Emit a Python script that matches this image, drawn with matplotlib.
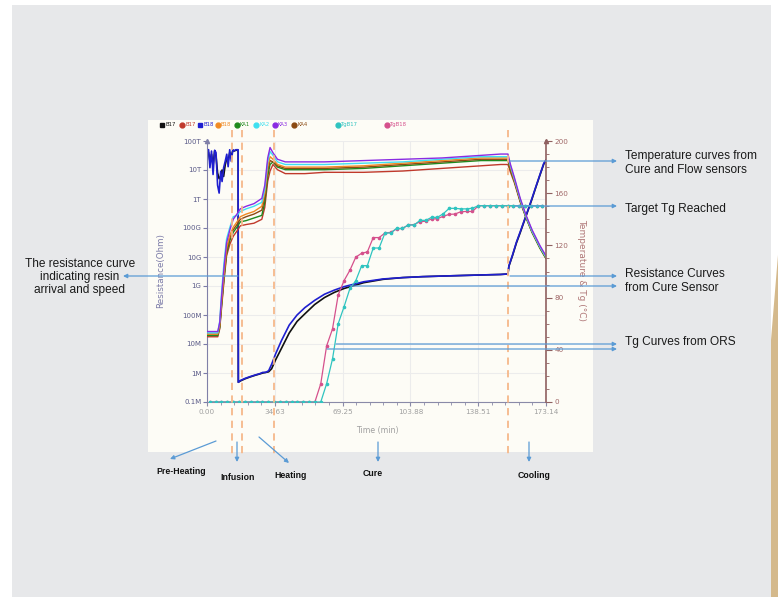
import matplotlib.pyplot as plt
import matplotlib.transforms as mtransforms
from matplotlib.patches import Rectangle, Polygon, FancyArrowPatch
from matplotlib.lines import Line2D
from matplotlib.ticker import AutoMinorLocator, MultipleLocator, NullLocator

# ---- data ----
# resistance of cure sensors (left axis, Ohm)
t_res = [0.0, 0.8, 1.5, 2.3, 3.1, 3.9, 4.6, 5.4, 6.2, 7.0, 7.7, 8.5, 9.3, 10.1, 10.8,
         11.6, 12.4, 13.2, 13.9, 14.7, 15.5, 15.9,
         16.0, 17, 19.4, 22, 24.5, 27, 28.5, 30, 31.5, 33, 35, 38, 42, 46, 50, 55, 60,
         65, 70, 80, 90, 100, 110, 120, 130, 140, 150, 153.7, 154.2, 156, 158, 160,
         162, 164, 166, 168, 170, 172, 173.1]
res_b17 = [4.8e13, 4e13, 2e13, 3.5e13, 1.5e13, 4.5e13, 3e13, 8e12, 5e12, 6e12, 1e13,
           6e12, 1.5e13, 2.5e13, 2e13, 4e13, 3e13, 4.8e13, 4.5e13, 4.8e13, 4.8e13, 4.8e13,
           4.8e5, 5.3e5, 6.3e5, 7.3e5, 8.3e5, 9.3e5, 1.0e6, 1.05e6, 1.1e6, 1.4e6, 2.8e6,
           7e6, 2.4e7, 6e7, 1.1e8, 2.3e8, 4e8, 6e8, 8.2e8, 1.3e9, 1.7e9, 1.95e9, 2.1e9,
           2.2e9, 2.3e9, 2.4e9, 2.5e9, 2.6e9, 4.8e9, 1.1e10, 3e10, 7e10, 1.7e11, 4.1e11,
           1.0e12, 2.6e12, 6.5e12, 1.6e13, 2.1e13]
res_b18 = [5e13, 5e13, 1.2e13, 4.5e13, 7e12, 4.8e13, 4e13, 3e12, 1.6e12, 9e12, 4e12,
           1.2e13, 2e13, 3.5e13, 1.3e13, 5e13, 2e13, 5e13, 4.6e13, 5e13, 5e13, 5e13,
           4.8e5, 5.5e5, 6.5e5, 7.5e5, 8.5e5, 9.5e5, 1.05e6, 1.05e6, 1.2e6, 2e6, 4.5e6,
           1.3e7, 4.5e7, 1.0e8, 1.8e8, 3.2e8, 5.2e8, 7.2e8, 9.5e8, 1.4e9, 1.75e9, 1.95e9,
           2.1e9, 2.2e9, 2.3e9, 2.4e9, 2.5e9, 2.6e9, 5e9, 1.15e10, 3.2e10, 7.5e10, 1.8e11,
           4.3e11, 1.07e12, 2.7e12, 6.8e12, 1.7e13, 2.2e13]

# temperatures (right axis, degC)
t_temp = [0, 5.5, 6.5, 7.5, 8.7, 10, 11.7, 13.4, 15.3, 17, 20, 24, 28, 29.5, 31, 32.2,
          33.7, 36, 40, 50, 60, 80, 100, 120, 140, 150, 153.7, 155, 157, 160, 163, 166,
          170, 173.1]
temp_ka3 = [54, 54, 61, 82, 103, 122, 132, 140, 144, 148, 150, 152, 156, 166, 187, 195, 191,
            186, 184, 184, 184, 185, 186, 187, 189, 190, 190, 182, 172, 156, 143, 132, 120, 112]
temp_ka2 = [53, 53, 62, 85, 107, 125, 134, 142, 143, 146, 148, 150, 153, 163, 184, 192, 189,
            184, 182, 182, 182, 183, 184, 186, 188, 188, 188, 181, 171, 155, 142, 131, 119, 111]
temp_b18 = [52, 52, 59, 78, 98, 118, 128, 134, 138, 142, 144, 146, 150, 160, 180, 188, 186,
            182, 180, 180, 180, 181, 183, 185, 187, 187, 187, 180, 170, 155, 142, 131, 119, 111]
temp_ka4 = [52, 52, 58, 77, 97, 116, 126, 132, 136, 140, 142, 144, 147, 157, 177, 185, 184,
            181, 179, 179, 179, 180, 182, 184, 186, 186, 186, 179, 170, 154, 142, 131, 119, 111]
temp_ka1 = [51, 51, 57, 75, 95, 114, 124, 130, 134, 138, 139, 141, 143, 153, 173, 182, 184,
            180, 178, 178, 178, 179, 181, 183, 185, 185, 185, 178, 169, 154, 141, 130, 118, 110]
temp_b17 = [50, 50, 56, 73, 93, 112, 121, 127, 131, 135, 136, 137, 140, 149, 169, 177, 182,
            178, 175, 175, 176, 176, 177, 179, 181, 182, 182, 176, 168, 153, 141, 130, 118, 110]

# Tg from ORS (right axis, degC)
t_tg = [1.5, 4.5, 7.4, 10.4, 13.4, 16.4, 19.4, 22.3, 25.3, 28.3, 31.3, 34.3, 37.2, 40.2,
        43.2, 46.2, 49.2, 52.1, 55.1, 58.1, 61.1, 64.1, 67.0, 70.0, 73.0, 76.0, 79.0, 81.9,
        84.9, 87.9, 90.9, 93.9, 96.8, 99.8, 102.8, 105.8, 108.8, 111.7, 114.7, 117.7, 120.7,
        123.7, 126.6, 129.6, 132.6, 135.6, 138.6, 141.5, 144.5, 147.5, 150.5, 153.5, 156.4,
        159.4, 162.4, 165.4, 168.4, 171.3]
tg_b18 = [0, 0, 0, 0, 0, 0, 0, 0, 0, 0, 0, 0, 0, 0, 0, 0, 0, 0, 0,
          14, 43, 56, 82, 93, 101, 111, 114, 115, 126, 126, 129.5, 130, 132.6, 133, 135.6,
          136, 138.2, 138.5, 140.2, 140.5, 142.3, 143.8, 144, 145.8, 146, 146, 150.4,
          150.4, 150.4, 150.4, 150.4, 150.4, 150.4, 150.4, 150.4, 150.4, 150.4, 150.4]
tg_b17 = [0, 0, 0, 0, 0, 0, 0, 0, 0, 0, 0, 0, 0, 0, 0, 0, 0, 0, 0, 0,
          14, 33, 60, 73, 87, 93, 104.5, 104.5, 118, 118, 129.5, 129.5, 133, 133, 135.6,
          135.6, 139.2, 139.2, 141.5, 141.5, 144.3, 148.4, 148.4, 148, 148, 148.5, 150.4,
          150.4, 150.4, 150.4, 150.4, 150.4, 150.4, 150.4, 150.4, 150.4, 150.4, 150.4]

phase_bounds = [12.8, 18.0, 34.0, 153.9]   # dashed process-stage lines (min)

x_ticks = [0, 34.63, 69.25, 103.88, 138.51, 173.14]
x_labels = ['0.00', '34.63', '69.25', '103.88', '138.51', '173.14']
y_ticks = [1e5, 1e6, 1e7, 1e8, 1e9, 1e10, 1e11, 1e12, 1e13, 1e14]
y_labels = ['0.1M', '1M', '10M', '100M', '1G', '10G', '100G', '1T', '10T', '100T']
y2_ticks = [0, 40, 80, 120, 160, 200]

legend_names = ['B17', 'B17', 'B18', 'B18', 'KA1', 'KA2', 'KA3', 'KA4', 'TgB17', 'TgB18']
legend_cols = ['#111111', '#c0392b', '#1f1fd0', '#f08a24', '#1e8a1e', '#3fe0f0',
               '#8a2be2', '#8b4a13', '#2fc4c0', '#d5508c']
legend_marks = ['s', 'o', 's', 'o', 'o', 'o', 'o', 'o', 'o', 'o']

# ---- layout helpers (pixel -> figure fraction) ----
W, H = 778, 597
def fx(px):
    return px / W
def fy(py):
    return 1 - py / H

fig = plt.figure(figsize=(W / 100, H / 100), dpi=100)
fig.patch.set_facecolor('white')

# slide background, chart panel and the tan decoration on the right
fig.add_artist(Rectangle((fx(12), 0), fx(771) - fx(12), fy(5), transform=fig.transFigure,
                         facecolor='#e7e8ea', edgecolor='none', zorder=-3))
fig.add_artist(Rectangle((fx(148), fy(452)), fx(593) - fx(148), fy(120) - fy(452),
                         transform=fig.transFigure, facecolor='#fdfcf6', edgecolor='none', zorder=-2))
fig.add_artist(Polygon([(fx(778), fy(255)), (fx(771), fy(340)), (fx(771), 0), (fx(778), 0)],
                       closed=True, transform=fig.transFigure, facecolor='#d4b98c',
                       edgecolor='none', zorder=-2))

ax = fig.add_axes([fx(207), fy(402), fx(546) - fx(207), fy(141) - fy(402)])
ax.set_facecolor('#fdfcf6')
ax2 = ax.twinx()
ax2.patch.set_visible(False)

# resistance curves
ax.plot(t_res, res_b17, color='#111111', lw=1.2)
ax.plot(t_res, res_b18, color='#1f1fd0', lw=1.2)
ax.set_yscale('log')
ax.set_ylim(1e5, 1e14)
ax.set_xlim(0, 173.14)

# temperature curves
ax2.plot(t_temp, temp_b17, color='#c0392b', lw=1)
ax2.plot(t_temp, temp_ka1, color='#1e8a1e', lw=1)
ax2.plot(t_temp, temp_ka4, color='#8b4a13', lw=1)
ax2.plot(t_temp, temp_b18, color='#f08a24', lw=1)
ax2.plot(t_temp, temp_ka2, color='#3fe0f0', lw=1)
ax2.plot(t_temp, temp_ka3, color='#8a2be2', lw=1)
# Tg curves
ax2.plot(t_tg, tg_b18, color='#d5508c', lw=0.9, marker='o', ms=1.6)
ax2.plot(t_tg, tg_b17, color='#2fc4c0', lw=0.9, marker='o', ms=1.6)
ax2.set_ylim(0, 200)

# axes styling
ax.grid(True, which='major', color='#ececec', lw=0.8)
ax.set_axisbelow(True)
ax.set_xticks(x_ticks)
ax.set_xticklabels(x_labels)
ax.xaxis.set_minor_locator(AutoMinorLocator(5))
ax.set_yticks(y_ticks)
ax.set_yticklabels(y_labels)
ax.yaxis.set_minor_locator(NullLocator())
ax.tick_params(axis='x', which='major', length=3, color='#8a8aa8', labelsize=5.2,
               labelcolor='#a0a0a0', pad=2)
ax.tick_params(axis='x', which='minor', length=2, color='#8a8aa8')
ax.tick_params(axis='y', which='major', length=3, color='#7c7ca8', labelsize=5,
               labelcolor='#5a5a88', pad=1)
for s in ['top', 'right']:
    ax.spines[s].set_visible(False)
ax.spines['left'].set_color('#8080a8')
ax.spines['bottom'].set_color('#8a8aa8')

ax2.set_yticks(y2_ticks)
ax2.yaxis.set_minor_locator(MultipleLocator(10))
ax2.tick_params(axis='y', which='major', length=4, color='#8f6060', labelsize=5.2,
                labelcolor='#a06868', pad=2)
ax2.tick_params(axis='y', which='minor', length=2, color='#8f6060')
for s in ['top', 'left', 'bottom']:
    ax2.spines[s].set_visible(False)
ax2.spines['right'].set_color('#8f6060')
ax2.spines['right'].set_linewidth(1.2)
ax.plot([0], [1], marker='^', ms=3, color='#8080a8', transform=ax.transAxes, clip_on=False)
ax2.plot([1], [1], marker='^', ms=3, color='#8f6060', transform=ax2.transAxes, clip_on=False)

# dashed stage boundaries, running below the panel
trans = mtransforms.blended_transform_factory(ax.transData, fig.transFigure)
for tb in phase_bounds:
    fig.add_artist(Line2D([tb, tb], [fy(130), fy(458)], transform=trans, color='#f6b88a',
                          lw=1.3, ls=(0, (4, 3)), zorder=2))

# axis labels
fig.text(fx(161), fy(270), 'Resistance(Ohm)', rotation=90, ha='center', va='center',
         fontsize=6.3, color='#7c7ca8')
fig.text(fx(582), fy(270), 'Temperature & Tg (°C)', rotation=270, ha='center', va='center',
         fontsize=6.5, color='#b07878')
fig.text(fx(377), fy(430), 'Time (min)', ha='center', va='center', fontsize=5.7, color='#a0a0a0')

# legend strip
leg_x = [162, 182, 200, 218, 237, 256, 275, 294, 338, 387]
for lx, name, col, mk in zip(leg_x, legend_names, legend_cols, legend_marks):
    fig.add_artist(Line2D([fx(lx)], [fy(124.7)], marker=mk, ms=3.5, color=col,
                          transform=fig.transFigure))
    fig.text(fx(lx + 3), fy(124.7), name, fontsize=3.8, color=col, va='center', ha='left')

# annotations
acol = '#5b9bd5'
def arrow(x0, y0, x1, y1):
    fig.add_artist(FancyArrowPatch((fx(x0), fy(y0)), (fx(x1), fy(y1)), transform=fig.transFigure,
                                   arrowstyle='-|>', mutation_scale=6, color=acol, lw=0.9,
                                   shrinkA=0, shrinkB=0, zorder=4))

arrow(510, 161, 617, 161)
arrow(515, 206, 617, 206)
arrow(510, 276, 617, 276)
arrow(350, 286, 617, 286)
arrow(336, 344, 617, 344)
arrow(327, 349, 617, 349)
arrow(238, 276, 123, 276)
arrow(216, 441, 170, 459)
arrow(237, 442, 237, 462)
arrow(259, 437, 289, 463)
arrow(378, 442, 378, 462)
arrow(529, 442, 529, 462)

afont = dict(family='Liberation Sans', fontsize=8.6, color='#1a1a1a')
fig.text(fx(625), fy(163), 'Temperature curves from\nCure and Flow sensors', ha='left',
         va='center', linespacing=1.15, **afont)
fig.text(fx(625), fy(209), 'Target Tg Reached', ha='left', va='center', **afont)
fig.text(fx(625), fy(281), 'Resistance Curves\nfrom Cure Sensor', ha='left', va='center',
         linespacing=1.15, **afont)
fig.text(fx(625), fy(342), 'Tg Curves from ORS', ha='left', va='center', **afont)
fig.text(fx(80), fy(277), 'The resistance curve\nindicating resin\narrival and speed',
         ha='center', va='center', multialignment='center', linespacing=1.15, **afont)

bfont = dict(family='Liberation Sans', fontsize=6.3, fontweight='bold', color='#111111')
fig.text(fx(181), fy(471), 'Pre-Heating', ha='center', va='center', **bfont)
fig.text(fx(238), fy(477), 'Infusion', ha='center', va='center', **bfont)
fig.text(fx(291), fy(476), 'Heating', ha='center', va='center', **bfont)
fig.text(fx(373), fy(474), 'Cure', ha='center', va='center', **bfont)
fig.text(fx(534), fy(475), 'Cooling', ha='center', va='center', **bfont)

fig.savefig('out.png', dpi=100)
